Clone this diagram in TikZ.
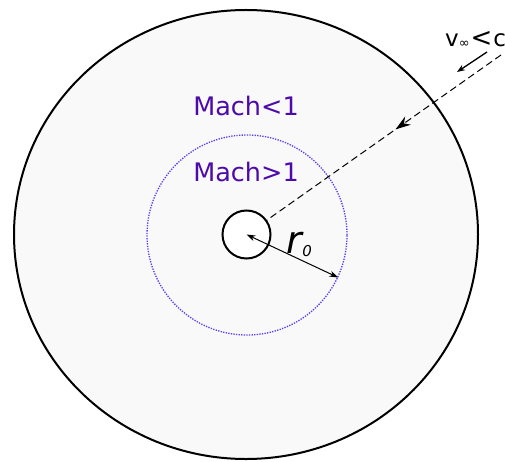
\documentclass[tikz,border=0pt]{standalone}
\usepackage{fontspec}
\setmainfont{DejaVu Sans}
\usetikzlibrary{shapes.geometric,arrows.meta,decorations.markings}
\definecolor{machtext}{RGB}{76,10,170}
\definecolor{sonicline}{RGB}{90,60,245}
\definecolor{bgfill}{RGB}{249,249,249}
\begin{document}
\begin{tikzpicture}[x=1pt,y=-1pt,
  outerbound/.style={ellipse,draw=black,line width=2pt,fill=bgfill,minimum width=464pt,minimum height=449pt,inner sep=0pt},
  sonicbound/.style={circle,draw=sonicline,line width=1.3pt,dash pattern=on 1.3pt off 1.3pt,minimum size=200pt,inner sep=0pt},
  bodycircle/.style={circle,draw=black,line width=2pt,fill=white,minimum size=48pt,inner sep=0pt},
  machlabel/.style={text=machtext,font=\fontsize{25.5}{30}\selectfont,inner sep=0pt}
]
\useasboundingbox (0,0) rectangle (505,462);
\node[outerbound] (outer) at (246,234.5) {};
\node[sonicbound] (sonic) at (247,235) {};
\node[machlabel] (sub) at (246,106) {Mach<1};
\node[machlabel] (sup) at (246,172) {Mach>1};
\coordinate (far) at (501,55);
\node[bodycircle] (body) at (246.5,234.5) {};
\draw[dashed,line width=1pt,dash pattern=on 7pt off 4pt,
  postaction={decorate},
  decoration={markings,mark=at position 0.45 with {\arrow{Stealth[length=15pt,width=10pt]}}}]
  (far) -- (body);
\draw[line width=1pt,{Stealth[length=9pt,width=6pt]}-{Stealth[length=9pt,width=6pt]}]
  (body.center) -- (sonic.-25);
\node[inner sep=0pt,anchor=base west] (rlabel) at (286,253)
  {\fontsize{38}{40}\selectfont\itshape r\kern0.5pt\raisebox{-3pt}{\fontsize{15}{17}\selectfont 0}};
\coordinate (flowa) at (487,52);
\coordinate (flowb) at (457,72);
\draw[line width=1.3pt,-{Stealth[length=8pt,width=6pt]}] (flowa) -- (flowb);
\node[inner sep=0pt,anchor=base west] (vlabel) at (445,47)
  {\fontsize{23}{26}\selectfont v\raisebox{-1pt}{\fontsize{13}{15}\selectfont ∞}\kern1pt{\fontsize{26}{28}\selectfont<}\kern1pt c\raisebox{-2pt}{\fontsize{12}{14}\selectfont 0}};
\end{tikzpicture}
\end{document}
